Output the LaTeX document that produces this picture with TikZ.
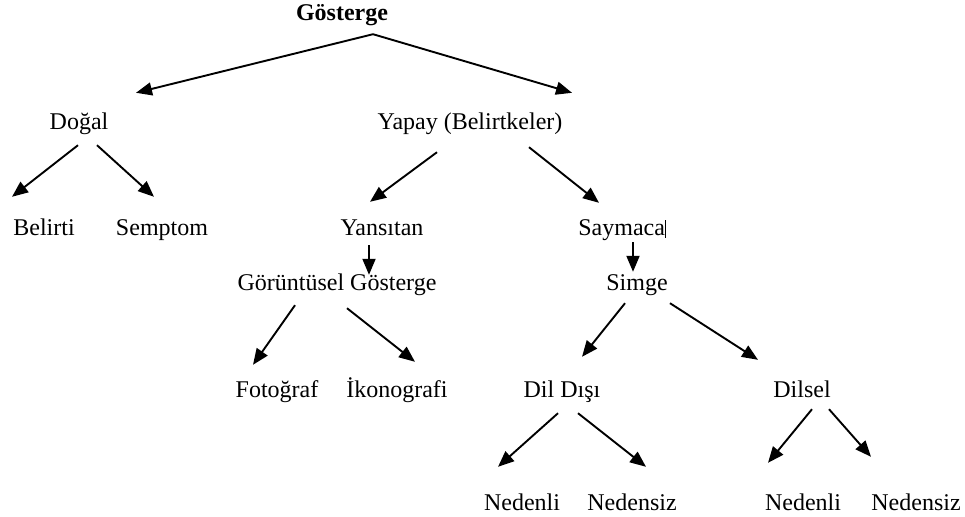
\documentclass[tikz,border=0pt]{standalone}
\usepackage{fontspec}
\setmainfont{Liberation Serif}
\usetikzlibrary{arrows.meta}
\tikzstyle{term}=[inner sep=0pt,text height=16pt,text depth=5pt,font=\fontsize{24}{28}\selectfont]
\tikzstyle{arr}=[line width=1.9pt,-{Triangle[length=16pt,width=13pt]}]
\newcommand{\term}[3]{\node[term] (#1) at (#2) {#3};}
\newcommand{\branch}[6]{\draw[arr] ([shift={(#2,#3)}]#1.south) -- ([shift={(#5,#6)}]#4.north);}

\begin{document}
\begin{tikzpicture}[x=1pt,y=-1pt]
    \useasboundingbox (0,0) rectangle (965,516);
    % levels of the tree
    \term{gos}{342,15}{\textbf{Gösterge}}
    \term{dogal}{79,123.5}{Doğal}
    \term{yapay}{470,123.5}{Yapay (Belirtkeler)}
    \term{belirti}{44,230}{Belirti}
    \term{semptom}{162,230}{Semptom}
    \term{yansitan}{382,230}{Yansıtan}
    \term{saymaca}{622,230}{Saymaca\rule[-2pt]{0.6pt}{18pt}}
    \term{goruntusel}{337,284.5}{Görüntüsel Gösterge}
    \term{simge}{637,284.5}{Simge}
    \term{fotograf}{277,392}{Fotoğraf}
    \term{ikonografi}{397,392}{İkonografi}
    \term{dildisi}{562,392}{Dil Dışı}
    \term{dilsel}{802,392}{Dilsel}
    \term{nedenli1}{522,505}{Nedenli}
    \term{nedensiz1}{632,505}{Nedensiz}
    \term{nedenli2}{803,505}{Nedenli}
    \term{nedensiz2}{916,505}{Nedensiz}

    % arrows
    \coordinate (apex) at ([shift={(31,8.5)}]gos.south);
    \draw[arr,line join=miter] (apex) -- ([shift={(57,-20)}]dogal.north);
    \draw[arr,line join=miter] (apex) -- ([shift={(102,-20)}]yapay.north);
    \branch{dogal}{-1}{11}{belirti}{-32}{-22.5}
    \branch{dogal}{18}{11}{semptom}{-8}{-22.5}
    \branch{yapay}{-33}{18}{yansitan}{-12}{-17.5}
    \branch{yapay}{59}{13}{saymaca}{-23}{-16.5}
    \branch{yansitan}{-13}{4.5}{goruntusel}{32}{1}
    \branch{saymaca}{11}{1.5}{simge}{-4}{-2}
    \branch{goruntusel}{-42}{10}{fotograf}{-24}{-16.5}
    \branch{goruntusel}{10}{13}{ikonografi}{18}{-19.5}
    \branch{simge}{-12}{8}{dildisi}{20}{-24.5}
    \branch{simge}{33}{8}{dilsel}{-44}{-21.5}
    \branch{dildisi}{-4}{10.5}{nedenli1}{-24}{-27.5}
    \branch{dildisi}{16}{10.5}{nedensiz1}{14}{-27.5}
    \branch{dilsel}{10}{6.5}{nedenli2}{-35}{-31.5}
    \branch{dilsel}{27}{6.5}{nedensiz2}{-45}{-37.5}
\end{tikzpicture}
\end{document}
